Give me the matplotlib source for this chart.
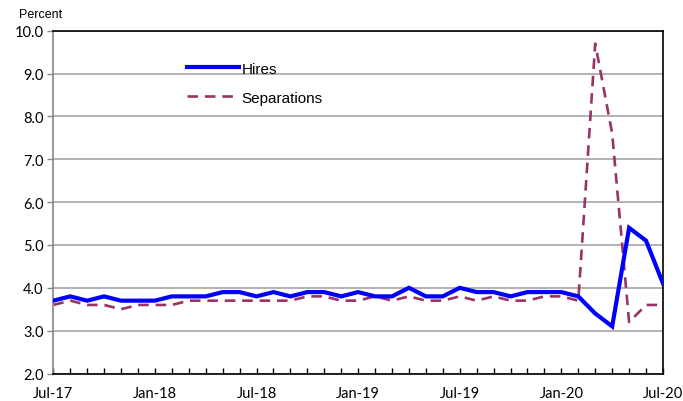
import matplotlib
matplotlib.use("Agg")
import matplotlib.pyplot as plt
import numpy as np

months = ["Jul-17","Aug-17","Sep-17","Oct-17","Nov-17","Dec-17",
          "Jan-18","Feb-18","Mar-18","Apr-18","May-18","Jun-18",
          "Jul-18","Aug-18","Sep-18","Oct-18","Nov-18","Dec-18",
          "Jan-19","Feb-19","Mar-19","Apr-19","May-19","Jun-19",
          "Jul-19","Aug-19","Sep-19","Oct-19","Nov-19","Dec-19",
          "Jan-20","Feb-20","Mar-20","Apr-20","May-20","Jun-20","Jul-20"]
hires = [3.7,3.8,3.7,3.8,3.7,3.7,
         3.7,3.8,3.8,3.8,3.9,3.9,
         3.8,3.9,3.8,3.9,3.9,3.8,
         3.9,3.8,3.8,4.0,3.8,3.8,
         4.0,3.9,3.9,3.8,3.9,3.9,
         3.9,3.8,3.4,3.1,5.4,5.1,4.1]
separations = [3.6,3.7,3.6,3.6,3.5,3.6,
               3.6,3.6,3.7,3.7,3.7,3.7,
               3.7,3.7,3.7,3.8,3.8,3.7,
               3.7,3.8,3.7,3.8,3.7,3.7,
               3.8,3.7,3.8,3.7,3.7,3.8,
               3.8,3.7,9.7,7.6,3.2,3.6,3.6]
tick_labels = ["Jul-17","Jan-18","Jul-18","Jan-19","Jul-19","Jan-20","Jul-20"]
y_ticks = [2.0,3.0,4.0,5.0,6.0,7.0,8.0,9.0,10.0]

fig = plt.figure(figsize=(6.83,4.02), dpi=100)
ax = fig.add_axes([0.078, 0.0684, 0.8927, 0.8527])

x = np.arange(len(months))
ax.plot(x, hires, color="#0000FF", lw=3.0, label="Hires", zorder=3, solid_joinstyle="miter")
ax.plot(x, separations, color="#993366", lw=1.9, ls=(0,(4,2.6)), label="Separations", zorder=2)

ax.set_xlim(0, len(months)-1)
ax.set_ylim(2.0, 10.0)
ax.set_yticks(y_ticks)
ax.set_yticklabels([f"{v:.1f}" for v in y_ticks], fontsize=10.5, family="Lato")
major = [months.index(m) for m in tick_labels]
ax.set_xticks(major)
ax.set_xticklabels(tick_labels, fontsize=10.5, family="Lato")
ax.set_xticks(x, minor=True)
ax.tick_params(axis="x", which="both", direction="in", length=4, width=1, color="black", pad=9)
ax.tick_params(axis="y", which="both", direction="out", length=4, width=1, color="#888888", pad=3)

ax.grid(axis="y", color="#a6a6a6", lw=1.2)
ax.set_axisbelow(True)
for s in ["top","right","bottom"]:
    ax.spines[s].set_color("black")
    ax.spines[s].set_linewidth(1.2)
ax.spines["left"].set_color("#888888")
ax.spines["left"].set_linewidth(1.2)

fig.text(0.06, 0.962, "Percent", fontsize=9, family="Liberation Sans", ha="center", va="center")

leg = ax.legend(loc="upper left", bbox_to_anchor=(0.21, 0.928), frameon=False,
                prop={"family":"Liberation Sans","size":11}, handlelength=3.4,
                handletextpad=0.15, labelspacing=1.0, borderaxespad=0)

fig.savefig("out.png", dpi=100)
